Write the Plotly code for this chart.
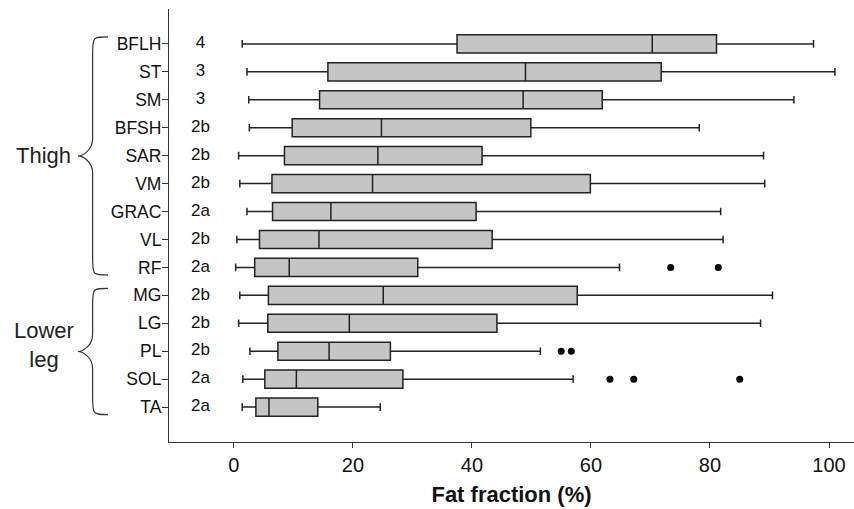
import plotly.graph_objects as go

muscles = ["BFLH", "ST", "SM", "BFSH", "SAR", "VM", "GRAC", "VL", "RF",
           "MG", "LG", "PL", "SOL", "TA"]
grades = ["4", "3", "3", "2b", "2b", "2b", "2a", "2b", "2a",
          "2b", "2b", "2b", "2a", "2a"]
lower_whisker = [1.4, 2.2, 2.5, 2.6, 0.8, 1.0, 2.2, 0.5, 0.3, 1.0, 0.8, 2.7, 1.5, 1.4]
q1_vals = [37.5, 15.8, 14.4, 9.8, 8.5, 6.4, 6.5, 4.3, 3.5, 5.8, 5.7, 7.4, 5.2, 3.7]
median_vals = [70.3, 49.0, 48.6, 24.8, 24.2, 23.3, 16.3, 14.3, 9.3, 25.1, 19.4, 16.0, 10.5, 5.9]
q3_vals = [81.1, 71.8, 61.9, 49.9, 41.7, 59.9, 40.7, 43.4, 30.9, 57.7, 44.2, 26.3, 28.4, 14.1]
upper_whisker = [97.4, 101.0, 94.1, 78.2, 89.0, 89.2, 81.8, 82.2, 64.8, 90.5, 88.5, 51.5, 57.0, 24.6]
outlier_muscle = ["RF", "RF", "PL", "PL", "SOL", "SOL", "SOL"]
outlier_value = [73.4, 81.4, 55.0, 56.7, 63.2, 67.2, 85.0]
groups = [("Thigh", "BFLH", "RF", 0.0), ("Lower<br>leg", "MG", "TA", 0.014)]

FONT = "Liberation Sans, Arial, sans-serif"
N = len(muscles)
Y_TOP, Y_BOT = -1.25, N - 1 + 1.25  # category-index range (reversed)


def row_to_paper(r):
    return (Y_BOT - r) / (Y_BOT - Y_TOP)


fig = go.Figure()
fig.add_trace(go.Box(
    y=muscles, q1=q1_vals, median=median_vals, q3=q3_vals,
    lowerfence=lower_whisker, upperfence=upper_whisker,
    orientation="h", fillcolor="#c4c5c4",
    line=dict(color="#222222", width=1.5),
    width=0.65, whiskerwidth=0.42, boxpoints=False, showlegend=False,
))
fig.add_trace(go.Scatter(
    x=outlier_value, y=outlier_muscle, mode="markers",
    marker=dict(color="black", size=7), showlegend=False,
))
fig.add_trace(go.Scatter(
    x=[-5.6] * N, y=muscles, mode="text", text=grades,
    textfont=dict(family=FONT, size=17, color="#111111"),
    textposition="middle center", showlegend=False,
))

# braces
x_end, x_mid, x_tip = -0.089, -0.1115, -0.1328
for label, top, bot, lift in groups:
    r0 = muscles.index(top) - 0.25
    r1 = muscles.index(bot) + 0.27
    yt, yb = row_to_paper(r0), row_to_paper(r1)
    yc = (yt + yb) / 2
    d = 0.04
    path = (f"M {x_end},{yt} C {x_mid},{yt} {x_mid},{yt} {x_mid},{yt - d} "
            f"L {x_mid},{yc + d} C {x_mid},{yc + d * 0.3} {x_tip + 0.006},{yc} {x_tip},{yc} "
            f"C {x_tip + 0.006},{yc} {x_mid},{yc - d * 0.3} {x_mid},{yc - d} "
            f"L {x_mid},{yb + d} C {x_mid},{yb} {x_mid},{yb} {x_end},{yb}")
    fig.add_shape(type="path", path=path, xref="paper", yref="paper",
                  line=dict(color="#333333", width=1.2))
    fig.add_annotation(text=label, xref="paper", yref="paper",
                       x=-0.1825, y=yc + lift, xanchor="center", yanchor="middle",
                       showarrow=False, align="center",
                       font=dict(family=FONT, size=22, color="#222222"))

fig.update_layout(
    width=854, height=509,
    margin=dict(l=169, r=0, t=9, b=67),
    paper_bgcolor="white", plot_bgcolor="white",
    font=dict(family=FONT, color="#111111"),
    xaxis=dict(
        range=[-10.9, 104.2], tickvals=[0, 20, 40, 60, 80, 100],
        showline=True, linecolor="#333333", linewidth=1.2,
        ticks="outside", ticklen=5, tickcolor="#333333",
        showgrid=False, zeroline=False,
        tickfont=dict(family=FONT, size=20, color="#111111"),
        title=dict(text="<b>Fat fraction (%)</b>", standoff=11,
                   font=dict(family=FONT, size=22, color="#111111")),
    ),
    yaxis=dict(
        type="category", categoryorder="array", categoryarray=muscles,
        range=[Y_BOT, Y_TOP],
        showline=True, linecolor="#333333", linewidth=1.2,
        ticks="outside", ticklen=6, tickcolor="#333333",
        ticklabelstandoff=-3,
        showgrid=False, zeroline=False,
        tickfont=dict(family=FONT, size=17.5, color="#111111"),
    ),
)

fig.write_html("out.html")
